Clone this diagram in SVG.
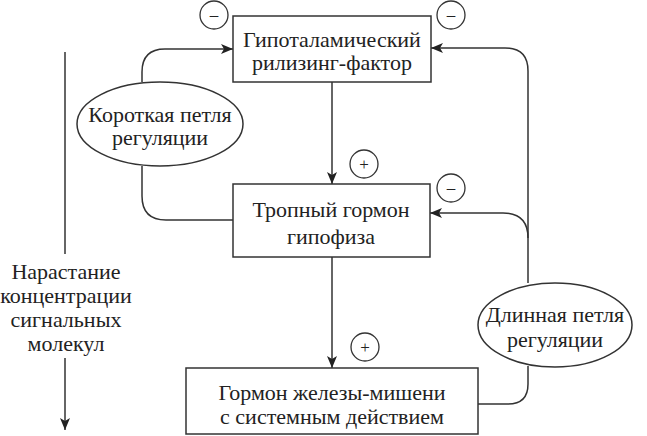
<svg xmlns="http://www.w3.org/2000/svg" width="647" height="436" viewBox="0 0 647 436">
<defs>
<marker id="ah" viewBox="0 0 12 10" refX="12" refY="5" markerWidth="12" markerHeight="10" markerUnits="userSpaceOnUse" orient="auto">
<path d="M0,0 L12,5 L0,10 L3,5 Z" fill="#222"/>
</marker>
</defs>
<g id="connectors" fill="none" stroke="#333" stroke-width="1.5">
<path d="M332,82 V184" marker-end="url(#ah)"/>
<path d="M332,257 V368" marker-end="url(#ah)"/>
<path d="M142,82 V72 Q142,49 165,49 H233" marker-end="url(#ah)"/>
<path d="M142,166 V196 Q142,220 166,220 H233"/>
<path d="M478,404 H508 Q528,404 528,384 V366"/>
<path d="M528,283 V71 Q528,48 505,48 H431" marker-end="url(#ah)"/>
<path d="M528,238 Q528,213 503,213 H430" marker-end="url(#ah)"/>
<path d="M65,52 V254"/>
<path d="M65,358 V430" marker-end="url(#ah)"/>
</g>
<g id="n1"><rect fill="#fff" stroke="#333" stroke-width="1.5" x="233" y="16" width="198" height="66"/><text font-family="Liberation Serif, Times New Roman, serif" font-size="22" fill="#222" text-anchor="middle" x="332" y="47">Гипоталамический</text><text font-family="Liberation Serif, Times New Roman, serif" font-size="22" fill="#222" text-anchor="middle" x="332" y="70">рилизинг-фактор</text></g>
<g id="n2"><rect fill="#fff" stroke="#333" stroke-width="1.5" x="233" y="184" width="197" height="73"/><text font-family="Liberation Serif, Times New Roman, serif" font-size="22" fill="#222" text-anchor="middle" x="331" y="217">Тропный гормон</text><text font-family="Liberation Serif, Times New Roman, serif" font-size="22" fill="#222" text-anchor="middle" x="331" y="244">гипофиза</text></g>
<g id="n3"><rect fill="#fff" stroke="#333" stroke-width="1.5" x="186" y="368" width="292" height="66"/><text font-family="Liberation Serif, Times New Roman, serif" font-size="22" fill="#222" text-anchor="middle" x="332" y="400">Гормон железы-мишени</text><text font-family="Liberation Serif, Times New Roman, serif" font-size="22" fill="#222" text-anchor="middle" x="332" y="424">с системным действием</text></g>
<g id="short"><ellipse fill="#fff" stroke="#333" stroke-width="1.5" cx="160" cy="124" rx="83" ry="42"/><text font-family="Liberation Serif, Times New Roman, serif" font-size="22" fill="#222" text-anchor="middle" x="160" y="122">Короткая петля</text><text font-family="Liberation Serif, Times New Roman, serif" font-size="22" fill="#222" text-anchor="middle" x="160" y="145">регуляции</text></g>
<g id="long"><ellipse fill="#fff" stroke="#333" stroke-width="1.5" cx="555" cy="325" rx="77" ry="42"/><text font-family="Liberation Serif, Times New Roman, serif" font-size="22" fill="#222" text-anchor="middle" x="555" y="322">Длинная петля</text><text font-family="Liberation Serif, Times New Roman, serif" font-size="22" fill="#222" text-anchor="middle" x="555" y="347">регуляции</text></g>
<g id="m1"><circle fill="#fff" stroke="#333" stroke-width="1.3" cx="214" cy="15" r="14"/><text font-family="Liberation Serif, Times New Roman, serif" font-size="17" fill="#222" text-anchor="middle" x="214" y="20">–</text></g>
<g id="m2"><circle fill="#fff" stroke="#333" stroke-width="1.3" cx="451" cy="15" r="14"/><text font-family="Liberation Serif, Times New Roman, serif" font-size="17" fill="#222" text-anchor="middle" x="451" y="20">–</text></g>
<g id="m3"><circle fill="#fff" stroke="#333" stroke-width="1.3" cx="451" cy="188" r="14"/><text font-family="Liberation Serif, Times New Roman, serif" font-size="17" fill="#222" text-anchor="middle" x="451" y="193">–</text></g>
<g id="p1"><circle fill="#fff" stroke="#333" stroke-width="1.3" cx="364" cy="164" r="14"/><text font-family="Liberation Serif, Times New Roman, serif" font-size="17" fill="#222" text-anchor="middle" x="364" y="170">+</text></g>
<g id="p2"><circle fill="#fff" stroke="#333" stroke-width="1.3" cx="365" cy="347" r="14"/><text font-family="Liberation Serif, Times New Roman, serif" font-size="17" fill="#222" text-anchor="middle" x="365" y="353">+</text></g>
<g id="axis"><text font-family="Liberation Serif, Times New Roman, serif" font-size="22" fill="#222" text-anchor="middle" x="66" y="279">Нарастание</text><text font-family="Liberation Serif, Times New Roman, serif" font-size="22" fill="#222" text-anchor="middle" x="66" y="303">концентрации</text><text font-family="Liberation Serif, Times New Roman, serif" font-size="22" fill="#222" text-anchor="middle" x="66" y="327">сигнальных</text><text font-family="Liberation Serif, Times New Roman, serif" font-size="22" fill="#222" text-anchor="middle" x="66" y="351">молекул</text></g>
</svg>
